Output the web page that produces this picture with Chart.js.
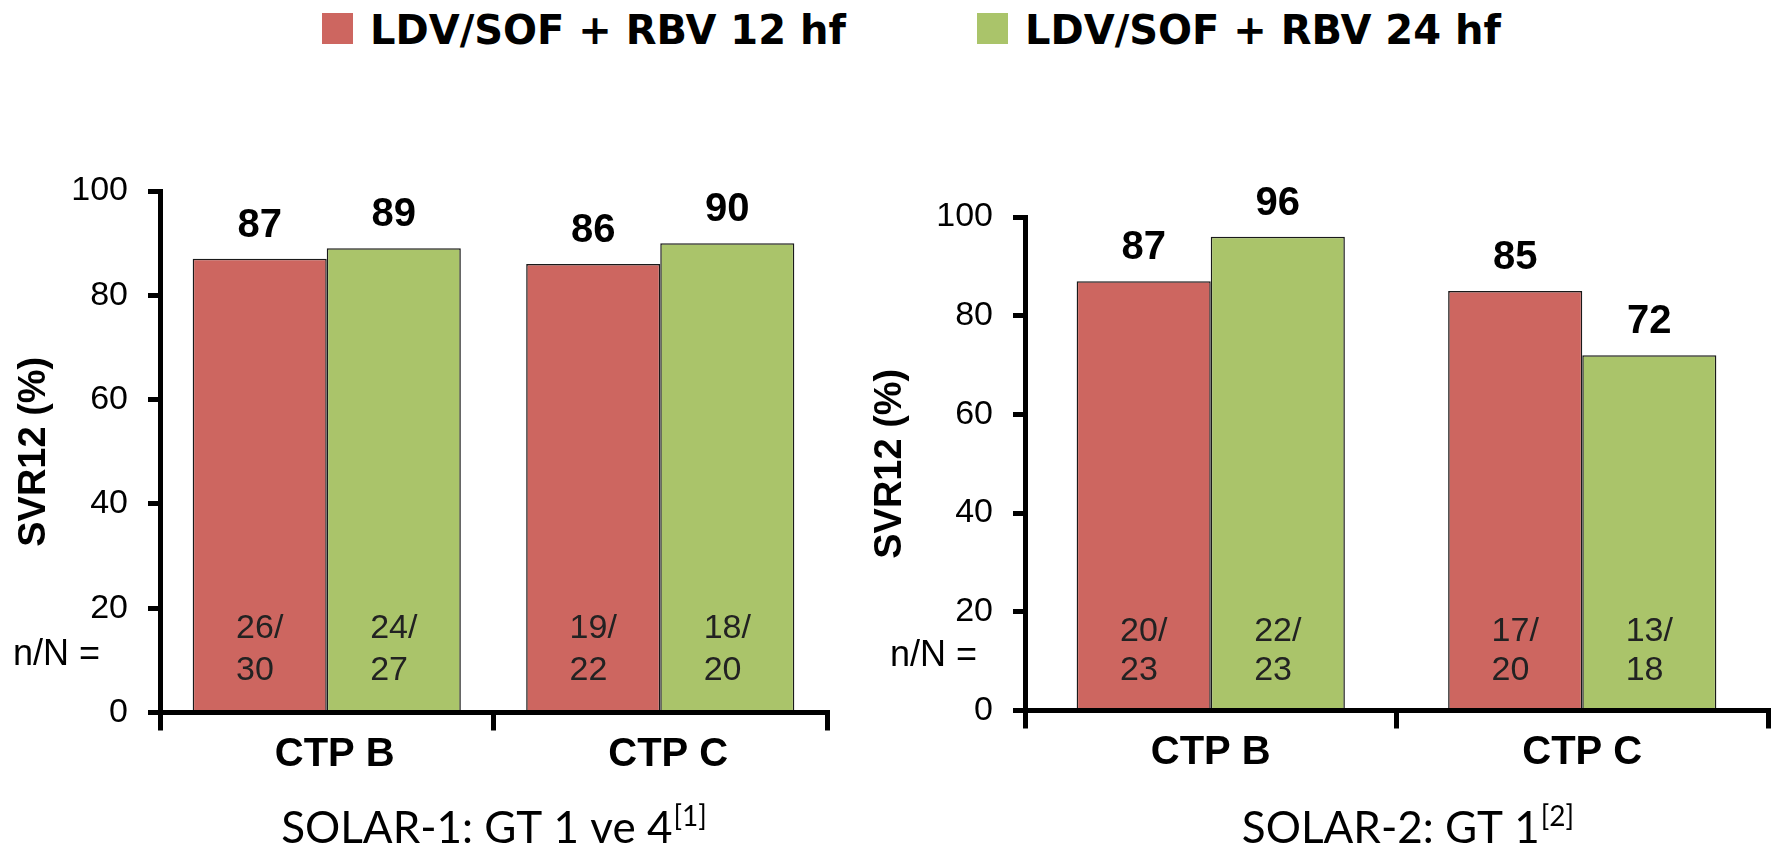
<!DOCTYPE html>
<html>
<head>
<meta charset="utf-8">
<script src="https://cdn.jsdelivr.net/npm/chart.js@4.4.1/dist/chart.umd.min.js"></script>
<style>
    body { margin: 0; background: #fff; width: 1779px; height: 853px; position: relative; overflow: hidden; }
    .legend-item { position: absolute; top: 0; height: 60px; }
    .legend-box { position: absolute; top: 13px; left: 0; width: 31px; height: 31px; }
    .legend-text { position: absolute; top: 10px; left: 48px; white-space: nowrap;
        font: bold 40px "DejaVu Sans", sans-serif; line-height: 40px; color: #000; }
    canvas { position: absolute; top: 0; }
    #leftChart { left: 0; }
    #rightChart { left: 850px; }
</style>
</head>
<body>
<div id="legend"></div>
<canvas id="leftChart" width="850" height="853"></canvas>
<canvas id="rightChart" width="929" height="853"></canvas>

<script>
// Data
const categories = ['CTP B', 'CTP C'];
const seriesNames = ['LDV/SOF + RBV 12 hf', 'LDV/SOF + RBV 24 hf'];
const seriesColors = ['#CD6660', '#AAC46A'];
const yTicks = [0, 20, 40, 60, 80, 100];

// SOLAR-1: GT 1 ve 4
const solar1Svr12 = [87, 86];
const solar1Svr24 = [89, 90];
const solar1Resp12 = [26, 19];
const solar1Total12 = [30, 22];
const solar1Resp24 = [24, 18];
const solar1Total24 = [27, 20];

// SOLAR-2: GT 1
const solar2Svr12 = [87, 85];
const solar2Svr24 = [96, 72];
const solar2Resp12 = [20, 17];
const solar2Total12 = [23, 20];
const solar2Resp24 = [22, 13];
const solar2Total24 = [23, 18];

const FONT = '"Liberation Sans", Arial, sans-serif';
Chart.defaults.font.family = FONT;
Chart.defaults.color = '#000';

// Legend (shared by both charts)
const legendLeft = [322, 977];
document.getElementById('legend').innerHTML = seriesNames.map((name, i) => `
    <div class="legend-item" style="left:${legendLeft[i]}px">
        <div class="legend-box" style="background:${seriesColors[i]}"></div>
        <div class="legend-text">${name}</div>
    </div>
`).join('');

// Value labels, n/N labels and the study subtitle
const annotations = {
    id: 'annotations',
    afterDraw(chart, args, opts) {
        const ctx = chart.ctx;
        const y = chart.scales.y;
        const area = chart.chartArea;
        ctx.save();
        chart.data.datasets.forEach((ds, di) => {
            const meta = chart.getDatasetMeta(di);
            meta.data.forEach((bar, i) => {
                ctx.fillStyle = '#000';
                ctx.font = 'bold 40px ' + FONT;
                ctx.textAlign = 'center';
                ctx.textBaseline = 'alphabetic';
                ctx.fillText(String(ds.data[i]), bar.x, bar.y - 22);

                ctx.fillStyle = '#222';
                ctx.font = '34px ' + FONT;
                const l1 = ds.responders[i] + '/';
                const l2 = String(ds.totals[i]);
                const w = Math.max(ctx.measureText(l1).width, ctx.measureText(l2).width);
                ctx.textAlign = 'left';
                ctx.textBaseline = 'middle';
                ctx.fillText(l1, bar.x - w / 2, y.getPixelForValue(16));
                ctx.fillText(l2, bar.x - w / 2, y.getPixelForValue(8));
            });
        });

        ctx.fillStyle = '#000';
        ctx.font = '36px ' + FONT;
        ctx.textAlign = 'right';
        ctx.textBaseline = 'middle';
        ctx.fillText('n/N =', area.left - opts.nGap, y.getPixelForValue(11));

        // subtitle with superscript reference
        ctx.font = '44px Lato, sans-serif';
        ctx.textBaseline = 'alphabetic';
        ctx.textAlign = 'left';
        const mainW = ctx.measureText(opts.title).width;
        ctx.font = '28px Lato, sans-serif';
        const supW = ctx.measureText(opts.sup).width;
        const cx = (area.left + area.right) / 2 + opts.titleDx;
        const x0 = cx - (mainW + supW) / 2;
        ctx.font = '44px Lato, sans-serif';
        ctx.fillText(opts.title, x0, 843);
        ctx.font = '28px Lato, sans-serif';
        ctx.fillText(opts.sup, x0 + mainW + 1, 826);
        ctx.restore();
    }
};

function makeChart(id, cfg) {
    const ctx = document.getElementById(id).getContext('2d');
    return new Chart(ctx, {
        type: 'bar',
        data: {
            labels: categories,
            datasets: [
                { label: seriesNames[0], data: cfg.svr12, responders: cfg.resp12, totals: cfg.total12,
                  backgroundColor: seriesColors[0], borderColor: '#1a1a1a', borderWidth: 1.5,
                  categoryPercentage: cfg.groupPct, barPercentage: 1 },
                { label: seriesNames[1], data: cfg.svr24, responders: cfg.resp24, totals: cfg.total24,
                  backgroundColor: seriesColors[1], borderColor: '#1a1a1a', borderWidth: 1.5,
                  categoryPercentage: cfg.groupPct, barPercentage: 1 }
            ]
        },
        options: {
            responsive: false,
            animation: false,
            layout: { padding: { top: cfg.top, right: cfg.right, left: 0, bottom: 0 } },
            plugins: {
                legend: { display: false },
                tooltip: { enabled: false },
                annotations: { nGap: cfg.nGap, title: cfg.title, sup: cfg.sup, titleDx: cfg.titleDx }
            },
            scales: {
                x: {
                    grid: { drawOnChartArea: false, tickLength: 18, lineWidth: 5, color: '#000', offset: true },
                    border: { width: 5, color: '#000' },
                    ticks: { font: { size: 40, weight: 'bold' }, color: '#000', padding: 0, labelOffset: cfg.labelDx },
                    afterFit: s => { s.height = cfg.xHeight; }
                },
                y: {
                    min: 0,
                    max: 100,
                    afterBuildTicks: s => { s.ticks = yTicks.map(v => ({ value: v })); },
                    grid: { drawOnChartArea: false, tickLength: 12, lineWidth: 5, color: '#000' },
                    border: { width: 5, color: '#000' },
                    ticks: { font: { size: 34 }, color: '#000', padding: 20 },
                    title: { display: true, text: 'SVR12 (%)', font: { size: 38, weight: 'bold' }, color: '#000',
                             padding: { top: cfg.titlePad, bottom: 0 } },
                    afterFit: s => { s.width = cfg.yWidth; }
                }
            }
        },
        plugins: [annotations]
    });
}

makeChart('leftChart', {
    svr12: solar1Svr12, svr24: solar1Svr24,
    resp12: solar1Resp12, total12: solar1Total12,
    resp24: solar1Resp24, total24: solar1Total24,
    groupPct: 0.804, top: 191, right: 23, xHeight: 140.5, yWidth: 160, titlePad: 12,
    labelDx: 8, nGap: 60, title: 'SOLAR-1: GT 1 ve 4', sup: '[1]', titleDx: 0
});

makeChart('rightChart', {
    svr12: solar2Svr12, svr24: solar2Svr24,
    resp12: solar2Resp12, total12: solar2Total12,
    resp24: solar2Resp24, total24: solar2Total24,
    groupPct: 0.722, top: 217, right: 11, xHeight: 142.5, yWidth: 175, titlePad: 18,
    labelDx: 0, nGap: 48, title: 'SOLAR-2: GT 1', sup: '[2]', titleDx: 11
});
</script>
</body>
</html>
